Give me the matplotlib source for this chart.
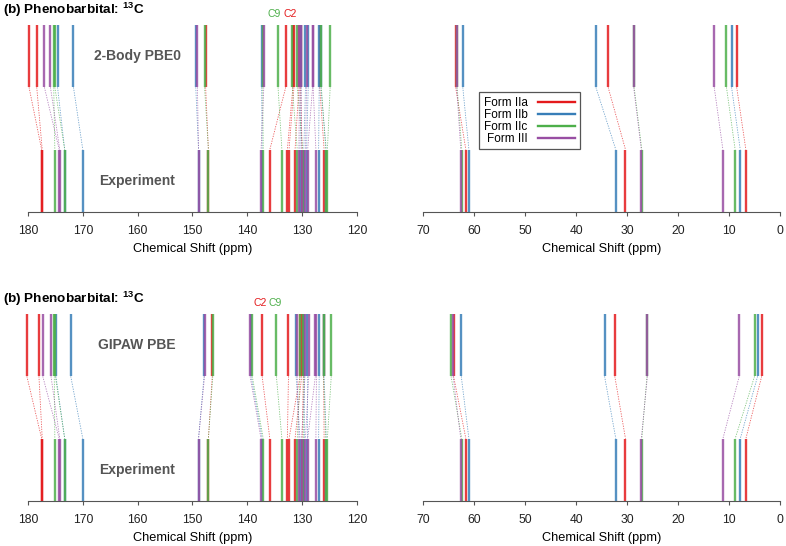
import matplotlib.pyplot as plt
from matplotlib.lines import Line2D

forms = ['Form IIa', 'Form IIb', 'Form IIc', 'Form III']
colors = ['#E41A1C', '#377EB8', '#4DAF4A', '#984EA3']

# carbon order: C=O, C=O, C=O (~148), ipso, 5 aromatic CH, C5, CH2, CH3
exp_IIa = [177.5, 177.4, 147.1, 135.9, 132.7, 132.4, 131.3, 130.0, 126.0, 61.6, 30.3, 6.7]
exp_IIb = [173.3, 170.0, 148.9, 137.3, 130.4, 129.7, 129.2, 127.0, 125.6, 61.0, 32.2, 7.8]
exp_IIc = [175.1, 173.3, 147.1, 137.1, 133.7, 130.9, 129.9, 125.7, 125.4, 62.4, 27.1, 8.8]
exp_III = [174.3, 174.2, 148.9, 137.5, 130.6, 130.1, 129.4, 129.0, 127.5, 62.6, 27.2, 11.2]

pbe0_IIa = [179.8, 178.4, 147.6, 133.0, 131.7, 131.5, 130.6, 130.3, 126.8, 63.6, 33.7, 8.5]
pbe0_IIb = [174.6, 171.7, 149.4, 137.4, 130.2, 129.4, 128.9, 126.9, 126.6, 62.2, 36.1, 9.5]
pbe0_IIc = [175.3, 175.1, 147.8, 137.2, 134.4, 131.8, 130.9, 126.5, 124.9, 63.3, 28.6, 10.5]
pbe0_III = [177.0, 175.9, 149.1, 137.0, 130.5, 130.2, 129.2, 128.1, 128.0, 63.4, 28.7, 12.9]

gipaw_IIa = [180.2, 178.0, 146.4, 137.3, 132.5, 130.4, 130.1, 129.8, 126.1, 64.0, 32.4, 3.6]
gipaw_IIb = [174.9, 172.2, 147.9, 139.3, 131.1, 129.7, 129.2, 126.9, 126.0, 62.5, 34.4, 4.4]
gipaw_IIc = [175.2, 175.0, 146.3, 139.1, 134.7, 130.4, 129.9, 126.1, 124.7, 64.5, 26.1, 5.0]
gipaw_III = [177.3, 175.8, 147.8, 139.5, 130.9, 129.5, 128.8, 127.6, 127.4, 64.1, 26.0, 8.0]

exp = [exp_IIa, exp_IIb, exp_IIc, exp_III]
pbe0 = [pbe0_IIa, pbe0_IIb, pbe0_IIc, pbe0_III]
gipaw = [gipaw_IIa, gipaw_IIb, gipaw_IIc, gipaw_III]

plt.rcParams['font.family'] = 'Liberation Sans'
plt.rcParams['mathtext.fontset'] = 'custom'
plt.rcParams['mathtext.rm'] = 'Liberation Sans'
plt.rcParams['mathtext.bf'] = 'Liberation Sans:bold'

fig = plt.figure(figsize=(7.86, 5.46), dpi=100)

axis_col = '#555555'


def draw_panel(ax, calc, xlim, ticks):
    # dotted connectors first, then the stick lines on top
    for e_list, c_list, col in zip(exp, calc, colors):
        for e, c in zip(e_list, c_list):
            ax.plot([c, e], [2, 1], color=col, lw=0.6, ls=(0, (1.5, 1.5)), alpha=0.7)
    for e_list, c_list, col in zip(exp, calc, colors):
        for e, c in zip(e_list, c_list):
            ax.plot([e, e], [0, 1], color=col, lw=1.7, alpha=0.85, solid_capstyle='butt')
            ax.plot([c, c], [2, 3], color=col, lw=1.7, alpha=0.85, solid_capstyle='butt')
    ax.set_xlim(xlim)
    ax.set_ylim(0, 3)
    ax.set_yticks([])
    ax.set_xticks(ticks)
    for s in ['top', 'left', 'right']:
        ax.spines[s].set_visible(False)
    ax.spines['bottom'].set_bounds(min(ticks), max(ticks))
    ax.spines['bottom'].set_color(axis_col)
    ax.tick_params(axis='x', length=3, width=0.8, color=axis_col, pad=6,
                   labelsize=8.7, labelcolor='#222222')
    ax.set_xlabel('Chemical Shift (ppm)', fontsize=9.2, labelpad=5)
    ax.patch.set_visible(False)


left_ticks = [180, 170, 160, 150, 140, 130, 120]
right_ticks = [70, 60, 50, 40, 30, 20, 10, 0]

rows = [(0.6117, pbe0, '2-Body PBE0'), (0.0824, gipaw, 'GIPAW PBE')]
for i, (bottom, calc, name) in enumerate(rows):
    axl = fig.add_axes([0.0286, bottom, 0.4326, 0.3425])
    draw_panel(axl, calc, (181, 119), left_ticks)
    axr = fig.add_axes([0.5317, bottom, 0.4672, 0.3425])
    draw_panel(axr, calc, (71, -1), right_ticks)

    axl.text(160.1, 2.5, name, ha='center', va='center', fontsize=10,
             fontweight='bold', color=axis_col)
    axl.text(160.1, 0.5, 'Experiment', ha='center', va='center', fontsize=10,
             fontweight='bold', color=axis_col)
    axl.text(-0.058, 1.08, r'(b) Phenobarbital: $\mathbf{^{13}}$C', transform=axl.transAxes,
             ha='left', va='center', fontsize=9.7, fontweight='bold')

    # C9 / C2 labels
    c9 = calc[2][4]
    c2 = calc[0][3]
    if i == 0:
        axl.text(c9 + 0.7, 3.17, 'C9', color=colors[2], ha='center', va='center', fontsize=7.5)
        axl.text(c2 - 0.9, 3.17, 'C2', color=colors[0], ha='center', va='center', fontsize=7.5)
    else:
        axl.text(c2 + 0.4, 3.17, 'C2', color=colors[0], ha='center', va='center', fontsize=7.5)
        axl.text(c9 + 0.2, 3.17, 'C9', color=colors[2], ha='center', va='center', fontsize=7.5)

    if i == 0:
        handles = [Line2D([], [], color=c, lw=1.7) for c in colors]
        leg = axr.legend(handles, forms, markerfirst=False, loc='upper left',
                         bbox_to_anchor=(0.6094, 0.8315), bbox_transform=fig.transFigure,
                         fancybox=False, edgecolor=axis_col, framealpha=1,
                         handlelength=3.1, fontsize=8.5, labelspacing=0.0,
                         borderpad=0.4, handletextpad=0.9, borderaxespad=0)
        leg.get_frame().set_linewidth(0.9)

fig.savefig('out.png', dpi=100)
